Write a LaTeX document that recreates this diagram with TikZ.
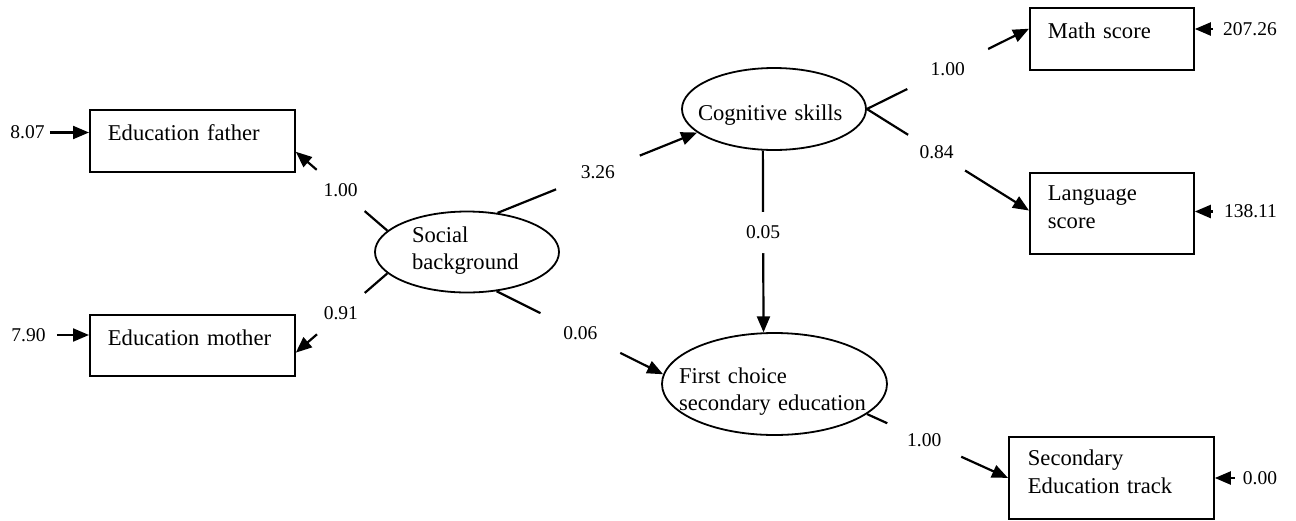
\documentclass[tikz,border=0pt]{standalone}
\usepackage{fontspec}
\setmainfont{Liberation Serif}
\usetikzlibrary{shapes.geometric,arrows.meta,calc}
\begin{document}
\begin{tikzpicture}[x=1pt,y=-1pt,
  lw/.style={line width=1.8pt},
  obs/.style={draw, lw, rectangle, anchor=north west, inner ysep=0pt, align=left, font=\fontsize{22.6}{27.5}\selectfont},
  lat/.style={draw, lw, ellipse, inner ysep=0pt, align=left, font=\fontsize{22.6}{27.5}\selectfont},
  arr/.style={line width=2.2pt, -{Triangle[length=16pt,width=13pt]}},
  coef/.style={circle, fill=white, inner sep=0pt, font=\fontsize{19.5}{23}\selectfont},
  err/.style={inner sep=0pt, font=\fontsize{19.5}{23}\selectfont},
]
\useasboundingbox (0,0) rectangle (1296,520);

% observed variables
\node[obs, inner xsep=18pt, text width=169pt, text height=31pt, text depth=31pt] (ef) at (89,109) {Education father};
\node[obs, inner xsep=18pt, text width=169pt, text height=31pt, text depth=30pt] (em) at (89,314) {Education mother};
\node[obs, inner xsep=18pt, text width=128pt, text height=31pt, text depth=31pt] (math) at (1029,7) {Math score};
\node[obs, inner xsep=18pt, text width=128pt, text height=28pt, text depth=53pt] (lang) at (1029,172) {Language\\score};
\node[obs, inner xsep=19pt, text width=167pt, text height=29pt, text depth=53pt] (sec) at (1008,436) {Secondary\\Education track};

% latent variables
\node[lat, minimum width=184pt, minimum height=81pt, inner xsep=0pt, text width=110pt, text height=12pt, text depth=32pt] (soc) at (467,252) {Social\\background};
\node[lat, minimum width=184pt, minimum height=82pt, inner xsep=-15pt, text width=152pt, text height=22pt, text depth=0pt] (cog) at (774,109) {Cognitive skills};
\node[lat, minimum width=225pt, minimum height=102pt, inner xsep=-20pt, text width=191pt, text height=20pt, text depth=22pt] (fc) at (774.5,384) {First choice\\secondary education};

% paths with coefficients
\draw[arr] (soc.165.6) -- node[coef, pos=0.51, minimum size=63pt]{1.00} (ef.-6.7);
\draw[arr] (soc.195.8) -- node[coef, pos=0.508, minimum size=63pt]{0.91} (em.-4.7);
\draw[arr] (soc.52.4) -- node[coef, pos=0.503, minimum size=90pt]{3.26} (cog.197);
\draw[arr] (soc.-53.8) -- node[coef, pos=0.503, minimum size=89pt]{0.06} (fc.175.4);
\draw[arr] (cog.-105) -- node[coef, pos=0.451, minimum size=41pt]{0.05} (fc.102.7);
\draw[arr] (cog.east) -- node[coef, pos=0.4985, minimum size=90pt]{1.00} (math.173.7);
\draw[arr] (cog.east) -- node[coef, pos=0.43, minimum size=67pt]{0.84} (lang.178.3);
\draw[arr] (fc.-18.9) -- node[coef, pos=0.406, minimum size=81pt]{1.00} (sec.west);

% error terms
\node[err] (e1) at (27.5,132.5) {8.07};
\draw[arr, shorten <=5pt] (e1.east) -- (e1.east -| ef.west);
\node[err] (e2) at (28.5,335) {7.90};
\draw[arr, shorten <=11pt] (e2.east) -- (e2.east -| em.west);
\node[err] (e3) at (1250,29) {207.26};
\draw[arr, shorten <=10pt] (e3.west) -- (e3.west -| math.east);
\node[err] (e4) at (1250.5,211.5) {138.11};
\draw[arr, shorten <=11pt] (e4.west) -- (e4.west -| lang.east);
\node[err] (e5) at (1260,478) {0.00};
\draw[arr, shorten <=8pt] (e5.west) -- (e5.west -| sec.east);
\end{tikzpicture}
\end{document}
